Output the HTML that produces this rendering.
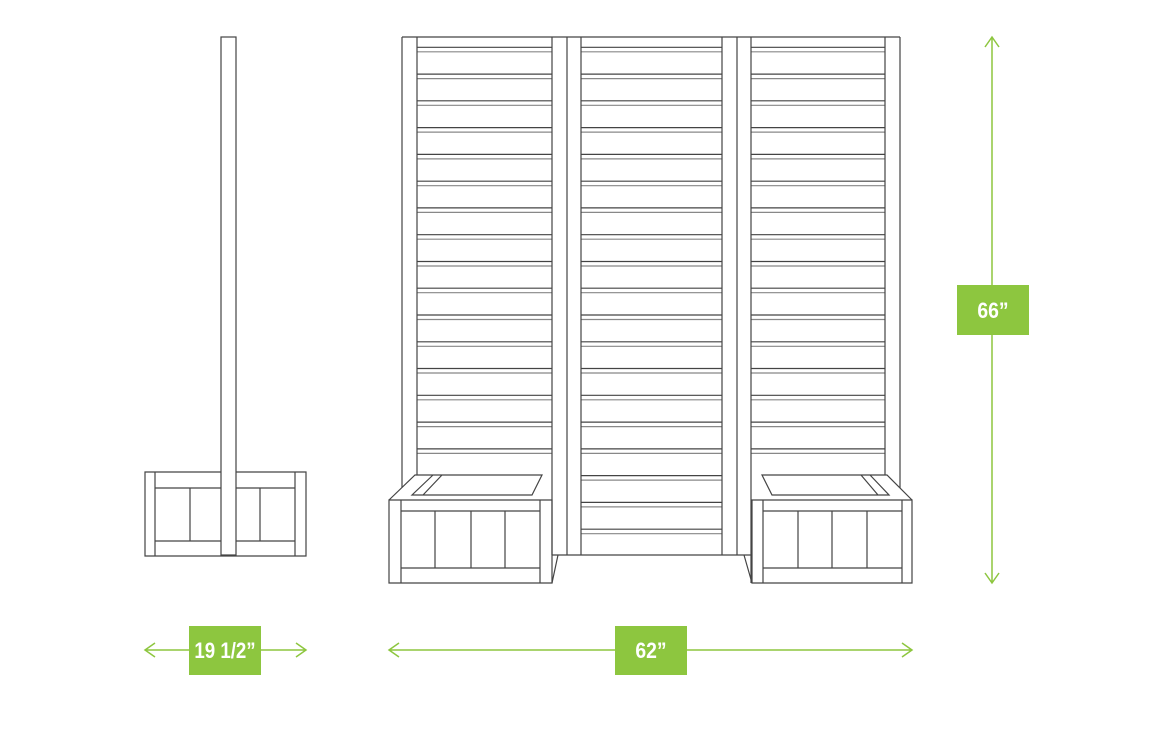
<!DOCTYPE html>
<html><head><meta charset="utf-8"><style>html,body{margin:0;padding:0;background:#fff;width:1170px;height:737px;overflow:hidden}</style></head>
<body>
<svg width="1170" height="737" viewBox="0 0 1170 737" xmlns="http://www.w3.org/2000/svg">
<g fill="none" stroke="#444" stroke-width="1.2">
<path d="M417 47.3H552M417 74.1H552M417 100.8H552M417 127.6H552M417 154.4H552M417 181.2H552M417 207.9H552M417 234.7H552M417 261.5H552M417 288.2H552M417 315H552M417 341.8H552M417 368.5H552M417 395.3H552M417 422.1H552M417 448.9H552"/>
<path stroke="#888" d="M417 51.8H552M417 78.6H552M417 105.3H552M417 132.1H552M417 158.9H552M417 185.7H552M417 212.4H552M417 239.2H552M417 266H552M417 292.7H552M417 319.5H552M417 346.3H552M417 373H552M417 399.8H552M417 426.6H552M417 453.4H552"/>
<path d="M751 47.3H885M751 74.1H885M751 100.8H885M751 127.6H885M751 154.4H885M751 181.2H885M751 207.9H885M751 234.7H885M751 261.5H885M751 288.2H885M751 315H885M751 341.8H885M751 368.5H885M751 395.3H885M751 422.1H885M751 448.9H885"/>
<path stroke="#888" d="M751 51.8H885M751 78.6H885M751 105.3H885M751 132.1H885M751 158.9H885M751 185.7H885M751 212.4H885M751 239.2H885M751 266H885M751 292.7H885M751 319.5H885M751 346.3H885M751 373H885M751 399.8H885M751 426.6H885M751 453.4H885"/>
<path d="M581 47.3H722M581 74.1H722M581 100.8H722M581 127.6H722M581 154.4H722M581 181.2H722M581 207.9H722M581 234.7H722M581 261.5H722M581 288.2H722M581 315H722M581 341.8H722M581 368.5H722M581 395.3H722M581 422.1H722M581 448.9H722M581 475.6H722M581 502.4H722M581 529.2H722"/>
<path stroke="#888" d="M581 51.8H722M581 78.6H722M581 105.3H722M581 132.1H722M581 158.9H722M581 185.7H722M581 212.4H722M581 239.2H722M581 266H722M581 292.7H722M581 319.5H722M581 346.3H722M581 373H722M581 399.8H722M581 426.6H722M581 453.4H722M581 480.1H722M581 506.9H722M581 533.7H722"/>
<path d="M402 37H900M402 37V487.5M417 37V475M552 37V555M567 37V555M581 37V555M722 37V555M737 37V555M751 37V583M885 37V475M900 37V488"/>
<path d="M552 555H751M558 555L552 583M744 555L752 583"/>
<path d="M389 500H552V583H389ZM401 500V583M540 500V583M401 511H540M401 568H540M435 511V568M471 511V568M505 511V568"/>
<path d="M389 500L415 475H542L532 495H412L433 475M423 495L442 475"/>
<path d="M752 500H912V583H752ZM763 500V583M902 500V583M763 511H902M763 568H902M798 511V568M832 511V568M867 511V568"/>
<path d="M912 500L887 475H762L772 495H889L870 475M878 495L861 475"/>
<path d="M145 472H306V556H145ZM155 472V556M295 472V556M155 488H295M155 541H295M190 488V541M260 488V541"/>
<rect x="221" y="37" width="15" height="518" fill="#fff"/>
</g>
<g stroke="#8dc63f" stroke-width="1.5" fill="none">
<path d="M992 37V583M985 47L992 37L999 47M985 573L992 583L999 573"/>
<path d="M389 650H912M399 643L389 650L399 657M902 643L912 650L902 657"/>
<path d="M145 650H306M155 643L145 650L155 657M296 643L306 650L296 657"/>
</g>
<g fill="#8dc63f">
<rect x="957" y="285" width="72" height="50"/>
<rect x="615" y="626" width="72" height="49"/>
<rect x="189" y="626" width="72" height="49"/>
</g>
<g fill="#fff" font-family="Liberation Sans, sans-serif" font-weight="bold" font-size="22" text-anchor="middle">
<text x="993" y="318" transform="translate(993 0) scale(0.88 1) translate(-993 0)">66”</text>
<text x="651" y="658" transform="translate(651 0) scale(0.88 1) translate(-651 0)">62”</text>
<text x="225" y="658" transform="translate(225 0) scale(0.85 1) translate(-225 0)">19 1/2”</text>
</g>
</svg>
</body></html>
